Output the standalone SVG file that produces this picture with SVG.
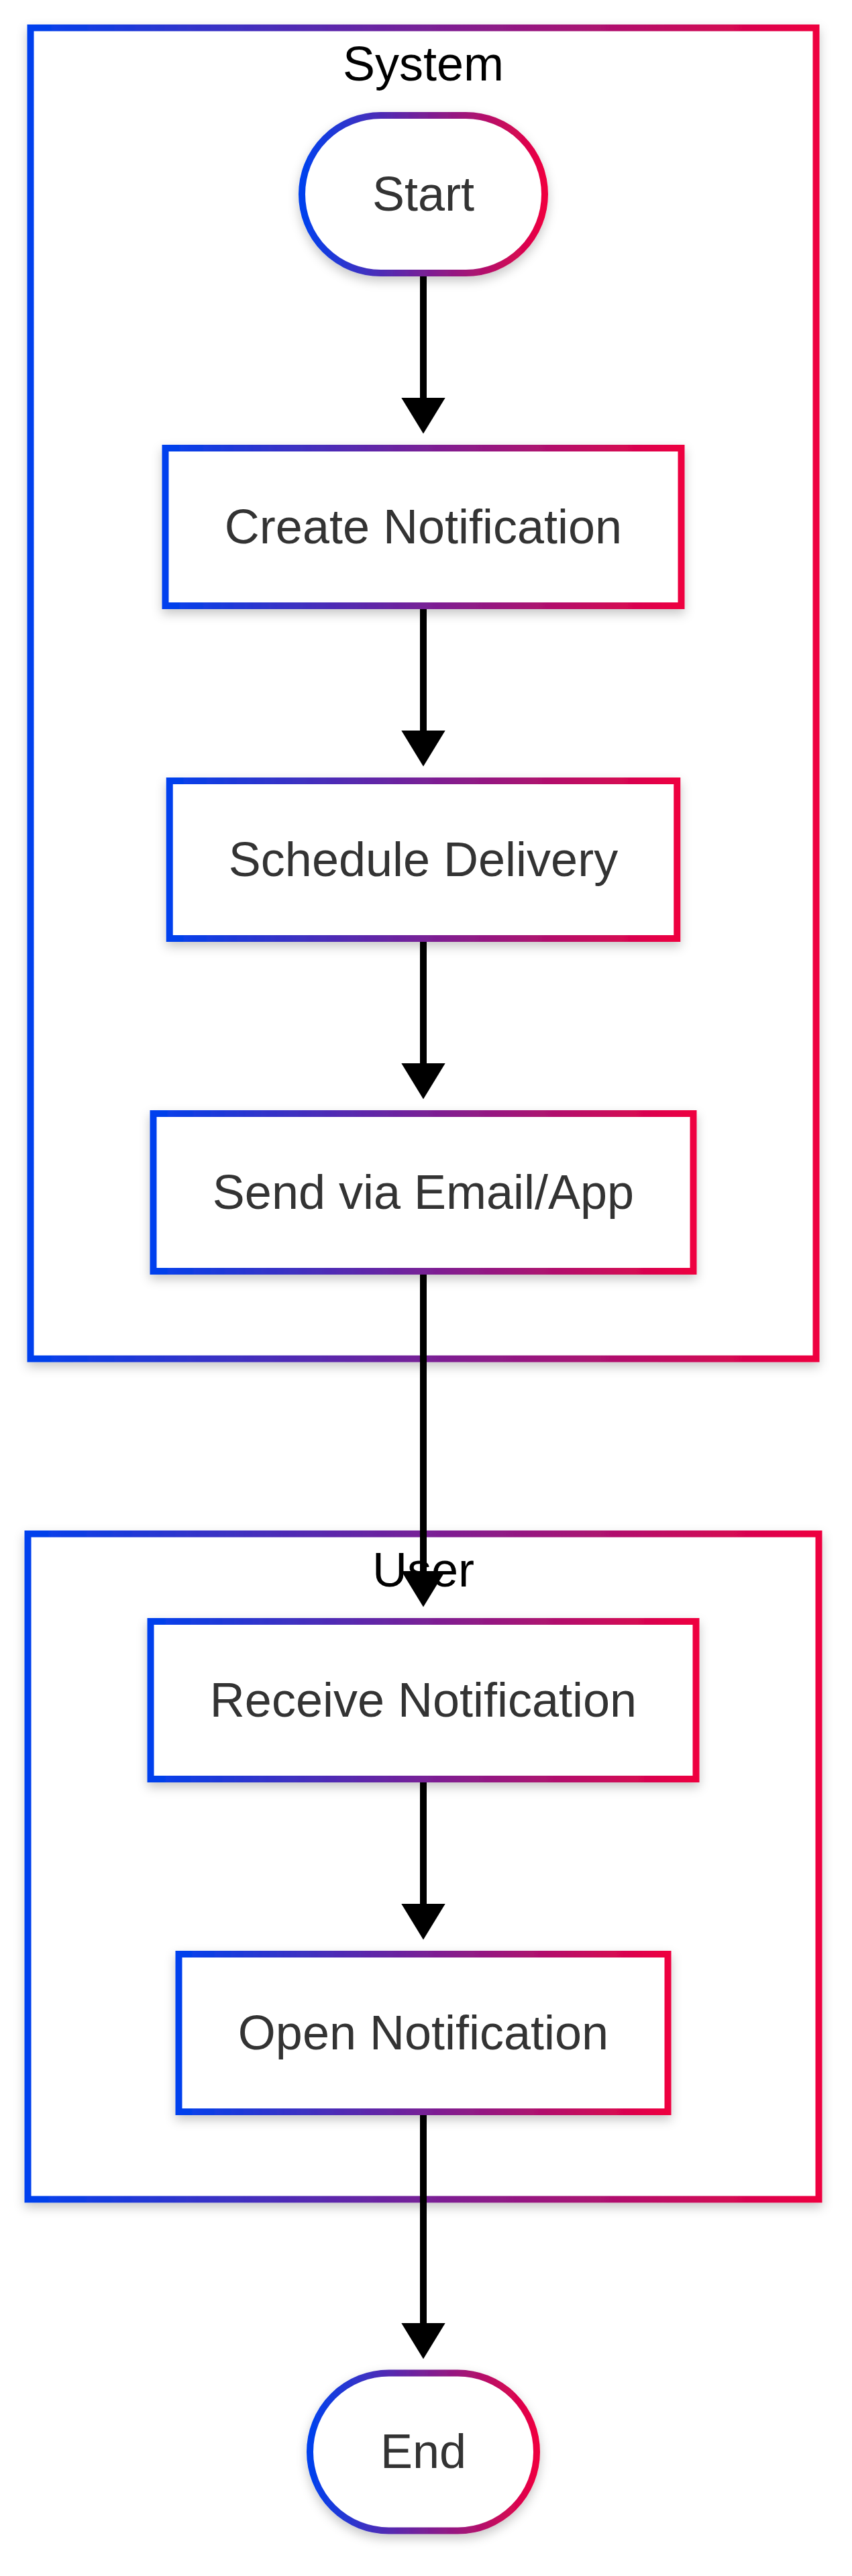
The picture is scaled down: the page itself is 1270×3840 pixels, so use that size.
<svg xmlns="http://www.w3.org/2000/svg" width="1270" height="3840" viewBox="0 0 1270 3840">
  <defs>
    <linearGradient id="grad" x1="0" y1="0" x2="1" y2="0">
      <stop offset="0" stop-color="#0041EE"/>
      <stop offset="1" stop-color="#EE0040"/>
    </linearGradient>
    <filter id="shadow" x="-10%" y="-10%" width="120%" height="130%">
      <feDropShadow dx="0" dy="7" stdDeviation="8" flood-color="#000" flood-opacity="0.22"/>
    </filter>
    <marker id="arrow" markerUnits="userSpaceOnUse" viewBox="0 0 54 66" markerWidth="54" markerHeight="66" refX="34" refY="33" orient="auto">
      <path d="M0,0 L54,33 L0,66 z" fill="#000"/>
    </marker>
    <style>
      .cluster { fill: #fff; stroke: url(#grad); stroke-width: 10; filter: url(#shadow); }
      .node { fill: #fff; stroke: url(#grad); stroke-width: 10; filter: url(#shadow); }
      .clabel { font-family: "Liberation Sans", Arial, sans-serif; font-size: 72px; fill: #000; text-anchor: middle; }
      .nlabel { font-family: "Liberation Sans", Arial, sans-serif; font-size: 72px; fill: #333; text-anchor: middle; }
      .edge { stroke: #000; stroke-width: 10; fill: none; marker-end: url(#arrow); }
    </style>
  </defs>
  <rect width="1270" height="3840" fill="#fff"/>

  <g id="cluster-system">
    <rect class="cluster" x="45.5" y="41.5" width="1171" height="1984"/>
    <text class="clabel" x="631" y="120">System</text>
  </g>
  <g id="cluster-user">
    <rect class="cluster" x="41.5" y="2286.5" width="1179" height="992"/>
    <text class="clabel" x="631" y="2365">User</text>
  </g>

  <g id="edges">
    <line class="edge" x1="631" y1="407" x2="631" y2="626.5"/>
    <line class="edge" x1="631" y1="903" x2="631" y2="1122.5"/>
    <line class="edge" x1="631" y1="1399" x2="631" y2="1618.5"/>
    <line class="edge" x1="631" y1="1895" x2="631" y2="2375.5"/>
    <line class="edge" x1="631" y1="2652" x2="631" y2="2871.5"/>
    <line class="edge" x1="631" y1="3148" x2="631" y2="3496.5"/>
  </g>

  <g id="start">
    <rect class="node" x="450" y="172" width="362" height="235" rx="117.5" ry="117.5"/>
    <text class="nlabel" x="631" y="313.5">Start</text>
  </g>
  <g id="create-notification">
    <rect class="node" x="246.5" y="668" width="769" height="235"/>
    <text class="nlabel" x="631" y="809.5">Create Notification</text>
  </g>
  <g id="schedule-delivery">
    <rect class="node" x="252.75" y="1164" width="756.5" height="235"/>
    <text class="nlabel" x="631" y="1305.5">Schedule Delivery</text>
  </g>
  <g id="send-via-email-app">
    <rect class="node" x="228.5" y="1660" width="805" height="235"/>
    <text class="nlabel" x="631" y="1801.5">Send via Email/App</text>
  </g>
  <g id="receive-notification">
    <rect class="node" x="224.5" y="2417" width="813" height="235"/>
    <text class="nlabel" x="631" y="2558.5">Receive Notification</text>
  </g>
  <g id="open-notification">
    <rect class="node" x="266.5" y="2913" width="729" height="235"/>
    <text class="nlabel" x="631" y="3054.5">Open Notification</text>
  </g>
  <g id="end">
    <rect class="node" x="462" y="3537.5" width="338" height="235" rx="117.5" ry="117.5"/>
    <text class="nlabel" x="631" y="3679">End</text>
  </g>
</svg>
